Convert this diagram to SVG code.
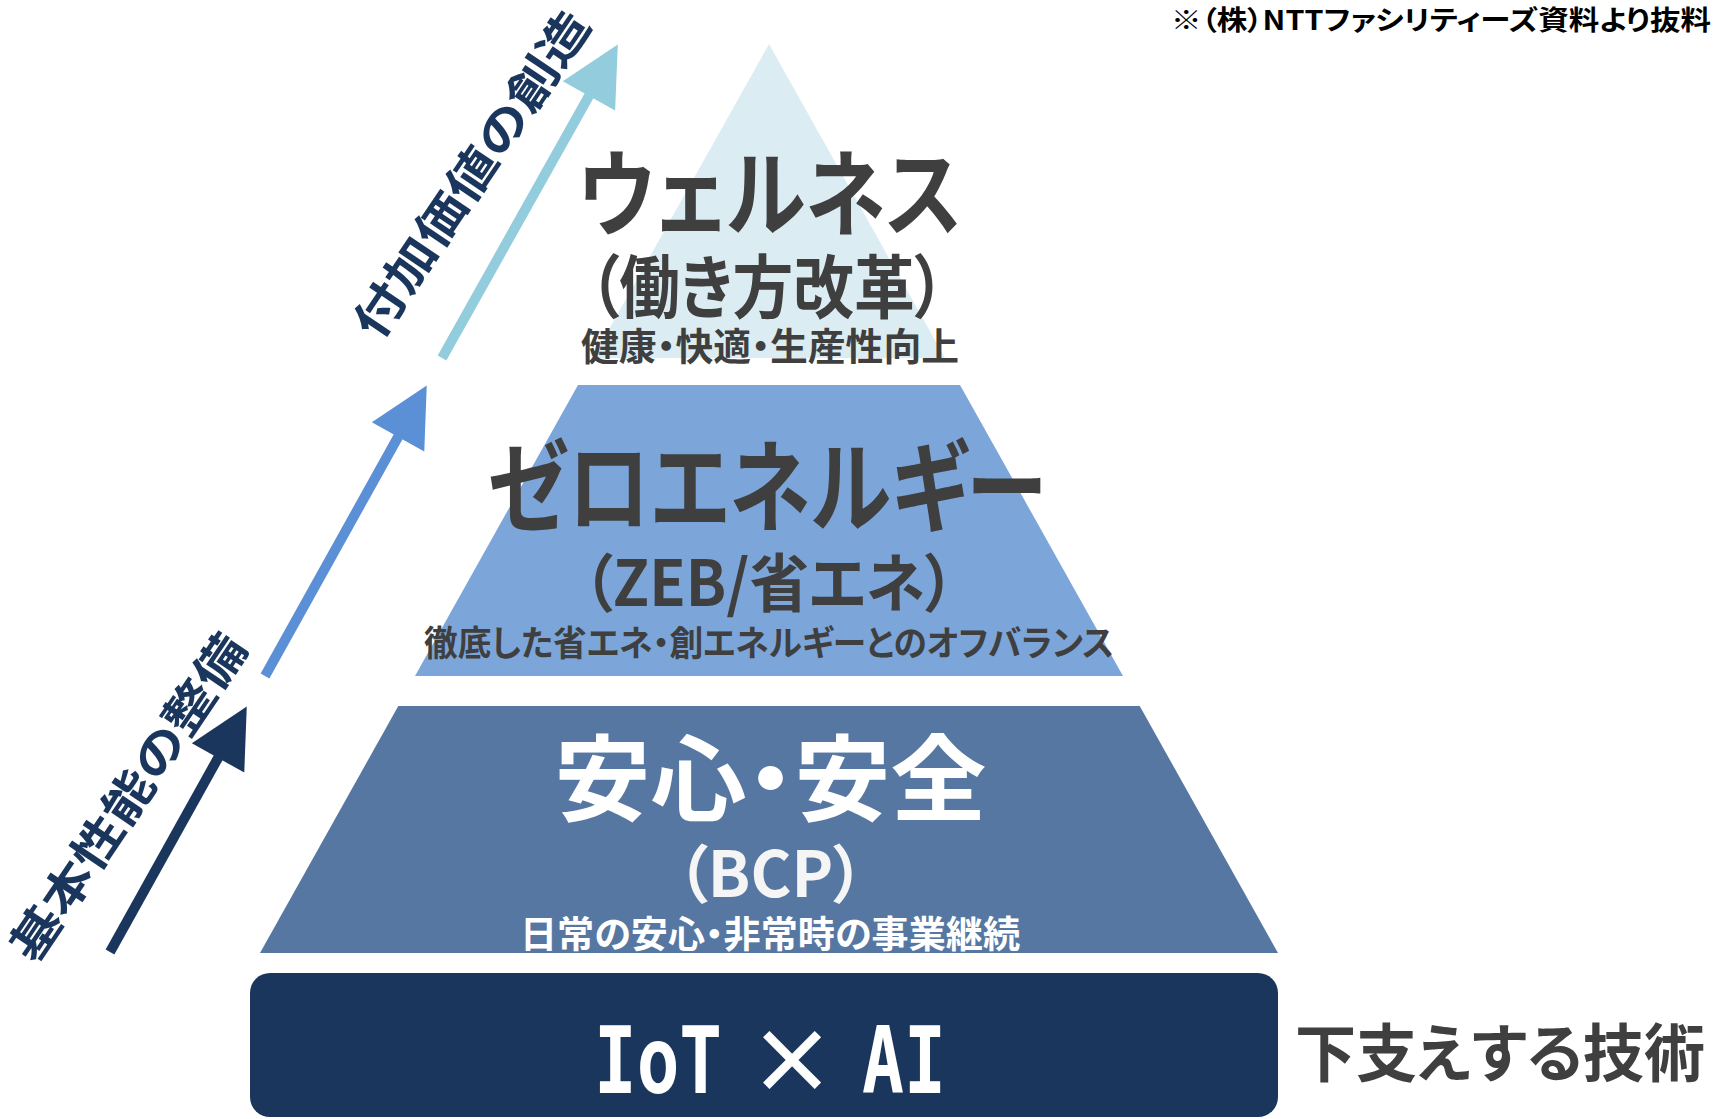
<svg xmlns="http://www.w3.org/2000/svg" width="1714" height="1119" viewBox="0 0 1714 1119">
<style>
.jp{font-family:"Noto Sans CJK JP","Noto Sans",sans-serif;font-weight:700;font-feature-settings:"palt";}
.c{text-anchor:middle}
.gray{fill:#3f3f3f}
.white{fill:#ffffff}
.navy{fill:#1a365d}
.mono{font-family:"DejaVu Sans Mono",monospace;font-weight:700;font-size:92px;fill:#ffffff}
.shaft{stroke-width:10;stroke-linecap:butt;fill:none}
</style>
<defs>
<marker id="hDark" markerUnits="userSpaceOnUse" viewBox="0 -30 59 60" markerWidth="59" markerHeight="60" refX="0.5" refY="0" orient="auto" overflow="visible"><path d="M0,-30 L59,0 L0,30 Z" fill="#1b365d"/></marker>
<marker id="hBlue" markerUnits="userSpaceOnUse" viewBox="0 -30 59 60" markerWidth="59" markerHeight="60" refX="0.5" refY="0" orient="auto" overflow="visible"><path d="M0,-30 L59,0 L0,30 Z" fill="#5b8fd6"/></marker>
<marker id="hLight" markerUnits="userSpaceOnUse" viewBox="0 -30 59 60" markerWidth="59" markerHeight="60" refX="0.5" refY="0" orient="auto" overflow="visible"><path d="M0,-30 L59,0 L0,30 Z" fill="#93cddd"/></marker>
</defs>
<rect width="1714" height="1119" fill="#ffffff"/>

<g id="credit">
<text class="jp" x="1171" y="30" font-size="27" fill="#000" textLength="540" lengthAdjust="spacingAndGlyphs">※（株）NTTファシリティーズ資料より抜料</text>
</g>

<g id="tier-wellness">
<polygon points="769,44 945,358 593,358" fill="#dbedf3"/>
<text class="jp c gray" x="770" y="229" font-size="94" textLength="384" lengthAdjust="spacingAndGlyphs">ウェルネス</text>
<text class="jp c gray" x="767" y="313" font-size="69" textLength="356" lengthAdjust="spacingAndGlyphs">（働き方改革）</text>
<text class="jp c gray" x="770" y="360" font-size="38" textLength="378" lengthAdjust="spacingAndGlyphs">健康・快適・生産性向上</text>
</g>

<g id="tier-zeb">
<polygon points="578,385 960,385 1123,676 415,676" fill="#7ca6da"/>
<text class="jp c gray" x="766.5" y="524" font-size="100" textLength="560" lengthAdjust="spacingAndGlyphs">ゼロエネルギー</text>
<text class="jp c gray" x="769" y="606" font-size="63" textLength="372" lengthAdjust="spacingAndGlyphs">（ZEB/省エネ）</text>
<text class="jp c gray" x="769" y="656" font-size="35" textLength="690" lengthAdjust="spacingAndGlyphs">徹底した省エネ・創エネルギーとのオフバランス</text>
</g>

<g id="tier-bcp">
<polygon points="398.3,706 1139.7,706 1278,953 260,953" fill="#5677a1"/>
<text class="jp c white" x="770.5" y="814" font-size="94" textLength="432" lengthAdjust="spacingAndGlyphs">安心・安全</text>
<text class="jp c" x="770.5" y="897" font-size="63" fill="#f5f5f5" textLength="188" lengthAdjust="spacingAndGlyphs">（BCP）</text>
<text class="jp c white" x="770" y="948" font-size="37" textLength="500" lengthAdjust="spacingAndGlyphs">日常の安心・非常時の事業継続</text>
</g>

<g id="tier-iot">
<rect x="250" y="973" width="1028" height="144" rx="20" fill="#1a365d"/>
<text class="mono" x="594" y="1093" textLength="128" lengthAdjust="spacingAndGlyphs">IoT</text>
<text x="792" y="1093" font-family="'Noto Sans CJK JP','Noto Sans',sans-serif" font-weight="700" font-size="88" fill="#ffffff" text-anchor="middle">×</text>
<text class="mono" x="862" y="1093" textLength="84" lengthAdjust="spacingAndGlyphs">AI</text>
</g>

<g id="label-support">
<text class="jp c gray" x="1500" y="1076" font-size="63" textLength="410" lengthAdjust="spacingAndGlyphs">下支えする技術</text>
</g>

<g id="connectors">
<line class="shaft" x1="110" y1="952" x2="218.3" y2="757.5" stroke="#1b365d" marker-end="url(#hDark)"/>
<line class="shaft" x1="265" y1="676" x2="398.3" y2="436.5" stroke="#5b8fd6" marker-end="url(#hBlue)"/>
<line class="shaft" x1="442" y1="358" x2="589.2" y2="95.5" stroke="#93cddd" marker-end="url(#hLight)"/>
</g>

<g id="label-basic">
<text class="jp c navy" transform="translate(142,806.8) rotate(-56)" x="0" y="0" font-size="46" textLength="382" lengthAdjust="spacingAndGlyphs">基本性能の整備</text>
</g>
<g id="label-value">
<text class="jp c navy" transform="translate(485.5,183.8) rotate(-56)" x="0" y="0" font-size="46" textLength="382" lengthAdjust="spacingAndGlyphs">付加価値の創造</text>
</g>
</svg>
